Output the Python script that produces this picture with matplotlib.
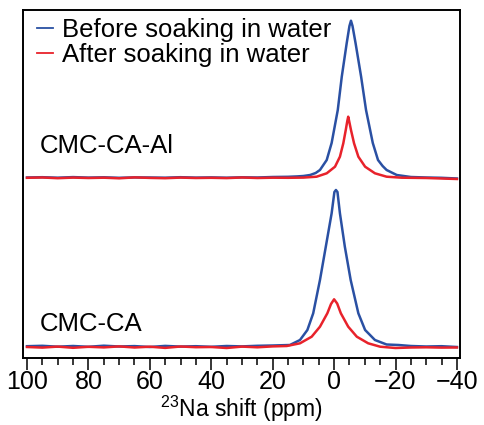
import numpy as np
import matplotlib
matplotlib.use("Agg")
import matplotlib.pyplot as plt
from matplotlib.ticker import MultipleLocator

# 23Na NMR spectra, intensities in arbitrary units
blue_top_ppm = [100, 95, 90, 85, 80, 75, 70, 65, 60, 55, 50, 45, 40, 35, 30, 25, 20, 15, 12, 10,
                7.8, 6.0, 4.6, 2.4, 0.8, -1.2, -2.5, -4.1, -5.0, -5.5, -6.0, -7.0, -8.8, -10.4, -12.6,
                -14.3, -15.8, -17.1, -20.4, -25, -30, -35, -40]
blue_top_int = [0.5, 0.8, 0.3, 0.9, 0.4, 0.7, 0.2, 0.6, 0.5, 0.3, 0.8, 0.4, 0.6, 0.3, 0.7, 0.5, 1.0, 1.2, 1.6, 2.0,
                3.0, 5.0, 8.0, 18.0, 35.0, 68.0, 101.3, 134.7, 152.0, 157.3, 152.0, 134.7, 101.3, 68.0, 35.0,
                18.0, 12.0, 8.0, 3.0, 1.0, 0.5, 0.2, -0.5]

red_top_ppm = [100, 95, 90, 85, 80, 75, 70, 65, 60, 55, 50, 45, 40, 35, 30, 25, 20, 15, 10,
               5.7, 2.4, -0.3, -1.9, -3.0, -3.8, -4.3, -4.6, -4.9, -5.5, -6.5, -7.9, -10.1, -13.3,
               -17.1, -22, -30, -35, -40]
red_top_int = [0.2, 0.5, -0.2, 0.4, 0.0, 0.3, -0.3, 0.6, 0.1, -0.2, 0.4, 0.0, 0.2, -0.1, 0.5, 0.0, 0.3, 0.2, 0.4,
               1.3, 4.7, 11.3, 21.3, 34.7, 48.0, 57.0, 61.3, 57.0, 48.0, 34.7, 21.3, 11.3, 4.7,
               1.3, 0.3, 0.0, -0.5, -1.0]

blue_bot_ppm = [100, 95, 90, 85, 80, 75, 70, 65, 60, 55, 50, 45, 40, 35, 30, 25, 20, 14.4,
                11.1, 8.7, 6.8, 4.6, 2.7, 0.8, -0.1, -0.6, -1.1, -1.9, -3.5, -5.4, -7.9, -10.1,
                -13.3, -17.1, -21, -25, -30, -35, -40]
blue_bot_int = [0.8, 1.2, 0.3, 1.0, 0.2, 1.3, 0.5, 0.9, 0.0, 1.1, 0.4, 0.8, 0.2, 1.0, 0.6, 1.2, 1.5, 2.0,
                7.0, 17.0, 33.7, 67.0, 100.3, 133.7, 155.0, 157.0, 155.0, 133.7, 100.3, 67.0, 33.7, 17.0,
                7.0, 2.5, 2.0, 1.0, 0.5, 0.8, 0.0]

red_bot_ppm = [100, 95, 90, 85, 80, 75, 70, 65, 60, 55, 50, 45, 40, 35, 30, 25, 20, 15.4,
               11.1, 7.3, 4.6, 2.2, 1.0, 0.0, -1.0, -2.2, -4.6, -7.4, -11.1, -15, -20, -25, -30, -35, -40]
red_bot_int = [0.0, -0.6, 0.4, -0.8, 0.2, -0.4, 0.6, -0.5, 0.3, -0.9, 0.5, -0.2, 0.0, -1.0, 0.4, -0.3, 0.6, 1.0,
               3.7, 10.3, 20.3, 33.7, 43.0, 47.7, 43.5, 33.7, 20.3, 10.3, 3.7, 0.3, -1.0, -0.5, -0.3, -0.6, -0.5]

offset = 169
labels = ["Before soaking in water", "After soaking in water"]
samples = ["CMC-CA-Al", "CMC-CA"]

BLUE = "#2a50a3"
RED = "#e8222b"

plt.rcParams['font.family'] = ['Liberation Sans', 'DejaVu Sans']
plt.rcParams['mathtext.default'] = 'regular'


def main():
    fig = plt.figure(figsize=(4.85, 4.25), dpi=100)
    ax = fig.add_axes([23 / 485, 1 - 358 / 425, 437 / 485, 348 / 425])

    lw = 1.8
    ax.plot(blue_top_ppm, np.array(blue_top_int) + offset, color=BLUE, lw=lw, label=labels[0])
    ax.plot(red_top_ppm, np.array(red_top_int) + offset, color=RED, lw=lw, label=labels[1])
    ax.plot(blue_bot_ppm, blue_bot_int, color=BLUE, lw=lw)
    ax.plot(red_bot_ppm, red_bot_int, color=RED, lw=lw)

    ax.text(95.8, 194, samples[0], fontsize=18.5, va='baseline')
    ax.text(95.8, 16, samples[1], fontsize=18.5, va='baseline')

    ax.set_xlim(101.3, -41)
    ax.set_ylim(-11, 337)
    ax.set_yticks([])
    ax.xaxis.set_major_locator(MultipleLocator(20))
    ax.xaxis.set_minor_locator(MultipleLocator(5))
    ax.tick_params(axis='x', which='major', direction='out', length=8.5, width=1.1,
                   labelsize=18, pad=0)
    ax.tick_params(axis='x', which='minor', direction='out', length=5, width=1.1)
    for s in ax.spines.values():
        s.set_linewidth(1.4)

    ax.set_xlabel("$^{23}$Na shift (ppm)", fontsize=16.5, labelpad=0)

    leg = ax.legend(loc='upper left', bbox_to_anchor=(0.032, 0.978), frameon=False,
                    fontsize=18.5, handlelength=0.62, handletextpad=0.35,
                    labelspacing=0.05, borderpad=0, borderaxespad=0)
    for h in leg.get_lines():
        h.set_linewidth(1.3)

    fig.savefig("out.png", dpi=100)


if __name__ == "__main__":
    main()
